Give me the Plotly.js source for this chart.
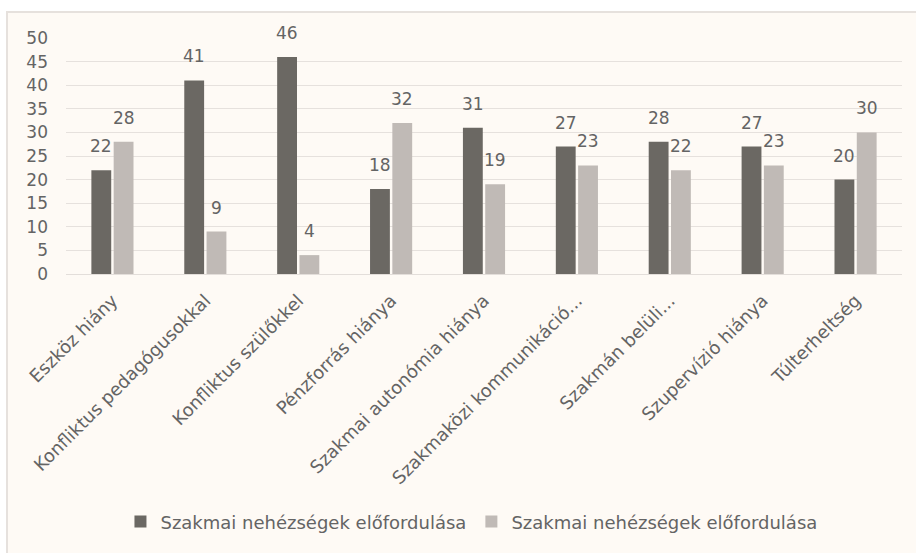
<!DOCTYPE html>
<html>
<head>
<meta charset="utf-8">
<script src="https://cdn.plot.ly/plotly-3.0.1.min.js"></script>
<style>
html,body{margin:0;padding:0;background:#ffffff;}
#frame{position:absolute;left:6px;top:11px;width:920px;height:560px;background:#fefaf5;border:2px solid #e6e1dd;box-sizing:border-box;}
#chart{position:absolute;left:0;top:0;width:916px;height:553px;}
</style>
</head>
<body>
<div id="frame"></div>
<div id="chart"></div>
<script>
const categories = ["Eszköz hiány","Konfliktus pedagógusokkal","Konfliktus szülőkkel","Pénzforrás hiánya","Szakmai autonómia hiánya","Szakmaközi kommunikáció...","Szakmán belüli...","Szupervízió hiánya","Túlterheltség"];
const series1Name = "Szakmai nehézségek előfordulása";
const series2Name = "Szakmai nehézségek előfordulása";
const series1 = [22,41,46,18,31,27,28,27,20];
const series2 = [28,9,4,32,19,23,22,23,30];
const yTicks = [0,5,10,15,20,25,30,35,40,45,50];

const font = "DejaVu Sans, sans-serif";
const txt = "#646464";
const W = 916, H = 553;
const M = {l:66, r:14, t:38, b:279};
const bargap = 0.52, bargroupgap = 0.11;

// half-slot offset of each bar from its category centre (derived from bargap)
const catW = (W - M.l - M.r) / categories.length;
const slot = catW * (1 - bargap) / 2;

const traces = [
  {type:"bar", name:series1Name, x:categories, y:series1, marker:{color:"#6b6863"}},
  {type:"bar", name:series2Name, x:categories, y:series2, marker:{color:"#c0bab6"}}
];

const annotations = [];
[series1, series2].forEach((s, si) => {
  s.forEach((v, i) => {
    annotations.push({x:categories[i], y:v, xref:"x", yref:"y", text:String(v),
      showarrow:false, yanchor:"bottom", xanchor:"center",
      xshift:(si === 0 ? -slot/2 : slot/2), yshift:12,
      font:{family:font, size:17, color:txt}});
  });
});

const layout = {
  width:W, height:H,
  margin:M,
  paper_bgcolor:"rgba(0,0,0,0)", plot_bgcolor:"rgba(0,0,0,0)",
  barmode:"group", bargap:bargap, bargroupgap:bargroupgap,
  font:{family:font, color:txt, size:14},
  showlegend:true,
  annotations:annotations,
  legend:{orientation:"h", x:0.485, xanchor:"center", y:-1.05, yanchor:"middle",
          font:{family:font,size:18,color:txt}, itemwidth:30, traceorder:"normal"},
  xaxis:{tickangle:-45, tickfont:{family:font,size:18,color:txt}, showline:true,
         linecolor:"#e3deda", linewidth:1, ticks:"", ticklabelstandoff:8, automargin:false},
  yaxis:{range:[0,50], tickvals:yTicks, ticktext:yTicks.map(String), gridcolor:"#e6e1dd",
         gridwidth:1, zeroline:false, showline:false, ticks:"", ticklabelstandoff:17,
         tickfont:{family:font,size:17,color:txt}, automargin:false}
};

Plotly.newPlot("chart", traces, layout, {displayModeBar:false, staticPlot:true});
</script>
</body>
</html>
